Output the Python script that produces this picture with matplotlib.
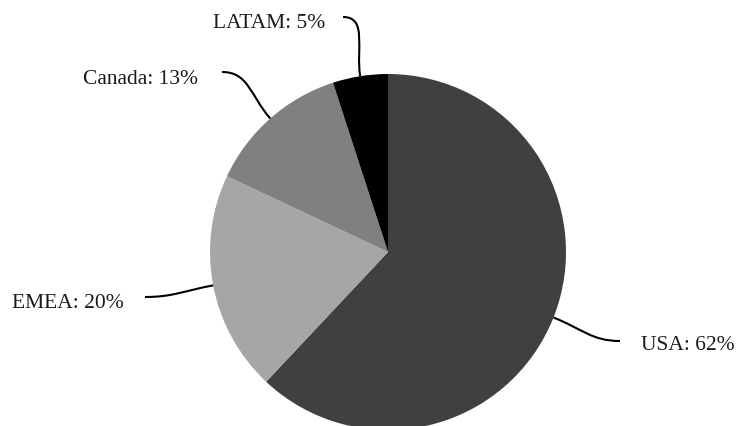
import numpy as np
import matplotlib; matplotlib.use("Agg")
import matplotlib.pyplot as plt
from matplotlib.path import Path
from matplotlib.patches import PathPatch

regions = ["USA", "EMEA", "Canada", "LATAM"]
shares = [62, 20, 13, 5]
colors = ["#404040", "#a6a6a6", "#808080", "#000000"]

W, H = 737, 426
cx, cy, R = 388, H - 252, 178
# label layout in pixel coords (x, y from top): line end, text anchor, alignment
line_end = [(620, 341), (145, 297), (222, 72), (343, 17)]
text_pos = [(641, 346), (124, 303), (198, 80), (325, 23)]
text_ha = ["left", "right", "right", "right"]

plt.rcParams["font.family"] = ["Liberation Serif", "DejaVu Serif"]
fig = plt.figure(figsize=(W / 100, H / 100), dpi=100)
ax = fig.add_axes([0, 0, 1, 1])

wedges, _ = ax.pie(shares, colors=colors, startangle=90, counterclock=False,
                   center=(cx, cy), radius=R, frame=True,
                   wedgeprops=dict(linewidth=0, antialiased=True))
ax.set_xlim(0, W); ax.set_ylim(0, H); ax.set_aspect("equal"); ax.axis("off")

for w, name, s, (ex, ey), (tx, ty), ha in zip(wedges, regions, shares, line_end, text_pos, text_ha):
    mid = np.deg2rad((w.theta1 + w.theta2) / 2)
    d = np.array([np.cos(mid), np.sin(mid)])
    p0 = np.array([cx, cy]) + R * d
    p3 = np.array([ex, H - ey], dtype=float)
    dist = np.linalg.norm(p3 - p0)
    p1 = p0 + 0.45 * dist * d
    sign = 1 if p3[0] > p0[0] else -1
    p2 = p3 - np.array([sign * 0.4 * dist, 0])
    path = Path([p0, p1, p2, p3], [Path.MOVETO, Path.CURVE4, Path.CURVE4, Path.CURVE4])
    ax.add_patch(PathPatch(path, fill=False, lw=1.5, color="black", capstyle="butt"))
    ax.text(tx, H - ty, f"{name}: {s}%", ha=ha, va="center", fontsize=15.5, color="#1a1a1a")

fig.savefig("out.png", dpi=100)
